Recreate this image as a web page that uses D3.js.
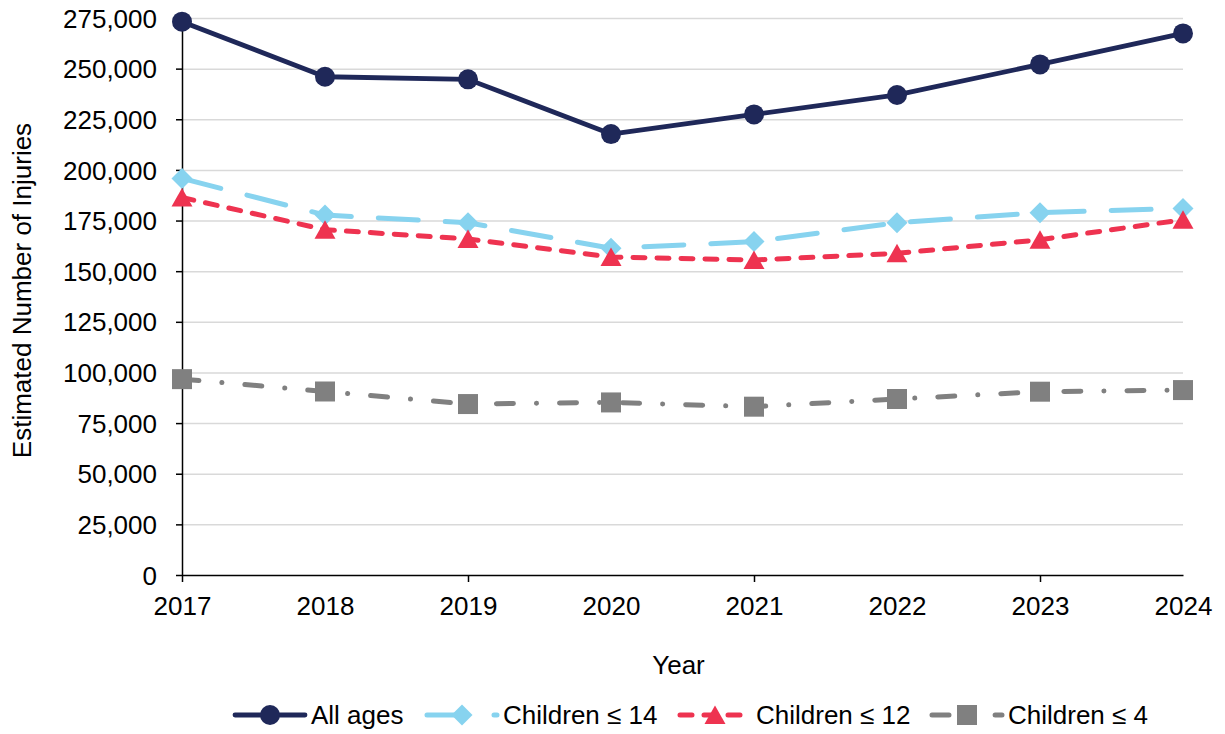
<!DOCTYPE html>
<html>
<head>
<meta charset="utf-8">
<script src="https://cdn.jsdelivr.net/npm/d3@7"></script>
<style>
  html, body { margin: 0; padding: 0; background: #ffffff; }
  svg { display: block; }
  text { font-family: "Liberation Sans", Arial, sans-serif; fill: #000; }
</style>
</head>
<body>
<svg id="chart" width="1225" height="734"></svg>
<script>
// Estimated injuries by year and age group
const years = [2017, 2018, 2019, 2020, 2021, 2022, 2023, 2024];
const allAges     = [273200, 246000, 244700, 217700, 227400, 237000, 252100, 267400];
const children14  = [195800, 177700, 173900, 161300, 164600, 173900, 178900, 181000];
const children12  = [186400, 170500, 165900, 157000, 155500, 158800, 165500, 175400];
const children4   = [96700, 90600, 84400, 85200, 83100, 86900, 90500, 91300];
const seriesNames = ["All ages", "Children \u2264 14", "Children \u2264 12", "Children \u2264 4"];
const yTicks = [0, 25000, 50000, 75000, 100000, 125000, 150000, 175000, 200000, 225000, 250000, 275000];
const xTickMarks = [2017, 2019, 2021, 2023];

const svg = d3.select("#chart");
const plot = { left: 182, right: 1183, top: 18, bottom: 575 };
const FONT = 26;

const x = d3.scaleLinear().domain([2017, 2024]).range([plot.left, plot.right]);
const y = d3.scaleLinear().domain([0, 275000]).range([plot.bottom, plot.top]);

// horizontal gridlines
const grid = svg.append("g").attr("transform", `translate(${plot.left},0)`)
  .call(d3.axisLeft(y).tickValues(yTicks.filter(d => d > 0)).tickSize(-(plot.right - plot.left)).tickFormat(""));
grid.select(".domain").remove();
grid.selectAll(".tick line").attr("stroke", "#d9d9d9").attr("stroke-width", 1.5);

// y axis
const yAxis = svg.append("g").attr("transform", `translate(${plot.left},0)`)
  .call(d3.axisLeft(y).tickValues(yTicks).tickSize(6).tickSizeOuter(0).tickPadding(19)
    .tickFormat(d3.format(",")));
yAxis.select(".domain").attr("stroke", "#000").attr("stroke-width", 1.5);
yAxis.selectAll(".tick line").attr("stroke", "#000").attr("stroke-width", 1.5);
yAxis.selectAll(".tick text").attr("font-size", FONT)
  .attr("font-family", "Liberation Sans, Arial, sans-serif").attr("dy", "0.35em");

// x axis: labels for every year, tick marks every other year
const xAxis = svg.append("g").attr("transform", `translate(0,${plot.bottom})`)
  .call(d3.axisBottom(x).tickValues(years).tickSize(0).tickSizeOuter(0).tickPadding(22)
    .tickFormat(d3.format("d")));
xAxis.select(".domain").attr("stroke", "#000").attr("stroke-width", 1.5);
xAxis.selectAll(".tick text").attr("font-size", FONT)
  .attr("font-family", "Liberation Sans, Arial, sans-serif");

const xMarks = svg.append("g").attr("transform", `translate(0,${plot.bottom})`)
  .call(d3.axisBottom(x).tickValues(xTickMarks).tickSize(7).tickSizeOuter(0).tickFormat(""));
xMarks.select(".domain").remove();
xMarks.selectAll(".tick line").attr("stroke", "#000").attr("stroke-width", 1.5);

// axis titles
svg.append("text")
  .attr("x", (plot.left + plot.right) / 2 - 4).attr("y", 674)
  .attr("text-anchor", "middle").attr("font-size", FONT)
  .text("Year");
svg.append("text")
  .attr("transform", `translate(31,${(plot.top + plot.bottom) / 2 - 6}) rotate(-90)`)
  .attr("text-anchor", "middle").attr("font-size", FONT)
  .text("Estimated Number of Injuries");

// marker shapes
const markerPaths = {
  circle: "M-10,0 A10,10 0 1,0 10,0 A10,10 0 1,0 -10,0 Z",
  diamond: "M0,-10.5 L10.5,0 L0,10.5 L-10.5,0 Z",
  triangle: "M0,-9.5 L10.5,9 L-10.5,9 Z",
  square: "M-10,-10 H10 V10 H-10 Z"
};

const series = [
  { name: seriesNames[0], values: allAges,    color: "#1f2859", dash: null,            width: 4.8, marker: "circle" },
  { name: seriesNames[1], values: children14, color: "#87d3ef", dash: "40,27",         width: 5,   marker: "diamond" },
  { name: seriesNames[2], values: children12, color: "#ee3350", dash: "12,12",         width: 5,   marker: "triangle" },
  { name: seriesNames[3], values: children4,  color: "#808080", dash: "17,23,0.1,23",  width: 5,   marker: "square" }
];

const line = d3.line().x((d, i) => x(years[i])).y(d => y(d));

series.forEach(s => {
  const g = svg.append("g");
  g.append("path")
    .attr("d", line(s.values))
    .attr("fill", "none")
    .attr("stroke", s.color)
    .attr("stroke-width", s.width)
    .attr("stroke-linecap", "round")
    .attr("stroke-linejoin", "round")
    .attr("stroke-dasharray", s.dash);
  g.selectAll("path.mk").data(s.values).enter().append("path")
    .attr("class", "mk")
    .attr("d", markerPaths[s.marker])
    .attr("transform", (d, i) => `translate(${x(years[i])},${y(d)})`)
    .attr("fill", s.color);
});

// legend
const legendY = 715;
const legendStarts = [235, 427, 680, 932];
series.forEach((s, i) => {
  const x0 = legendStarts[i], len = 70;
  const g = svg.append("g");
  g.append("line")
    .attr("x1", x0).attr("x2", x0 + len)
    .attr("y1", legendY).attr("y2", legendY)
    .attr("stroke", s.color)
    .attr("stroke-width", s.width)
    .attr("stroke-linecap", "round")
    .attr("stroke-dasharray", s.dash);
  g.append("path")
    .attr("d", markerPaths[s.marker])
    .attr("transform", `translate(${x0 + len / 2},${legendY})`)
    .attr("fill", s.color);
  g.append("text")
    .attr("x", x0 + len + 6).attr("y", legendY + 9)
    .attr("font-size", FONT)
    .text(s.name);
});
</script>
</body>
</html>
